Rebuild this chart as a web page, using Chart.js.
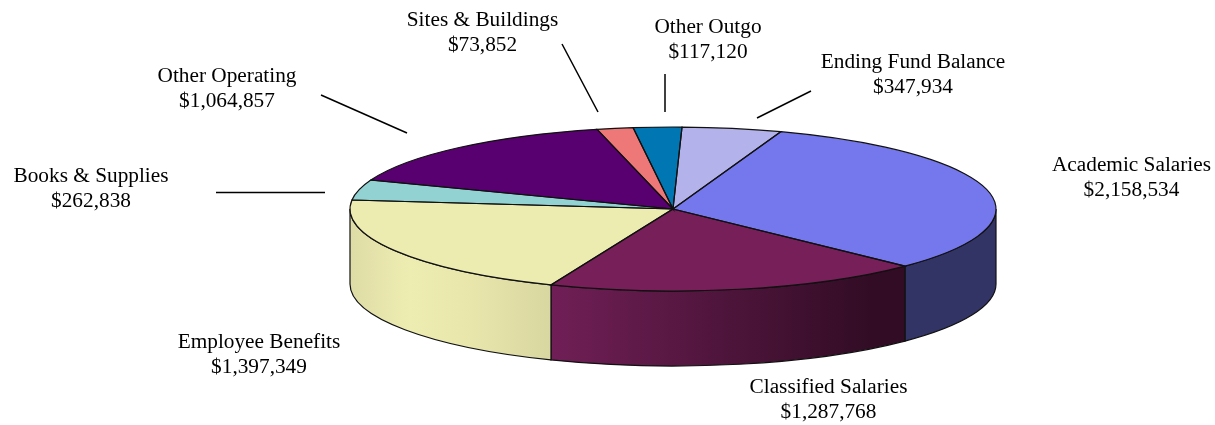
<!DOCTYPE html>
<html>
<head>
<meta charset="utf-8">
<title>Expenditures</title>
<script src="https://cdn.jsdelivr.net/npm/chart.js@4"></script>
<style>
    html, body { margin: 0; padding: 0; background: #fff; }
    canvas { display: block; }
</style>
</head>
<body>
<canvas id="budgetChart" width="1215" height="425"></canvas>
<script>
const categories = ['Academic Salaries', 'Classified Salaries', 'Employee Benefits', 'Books & Supplies',
    'Other Operating', 'Sites & Buildings', 'Other Outgo', 'Ending Fund Balance'];
const amounts = [2158534, 1287768, 1397349, 262838, 1064857, 73852, 117120, 347934];
// slice sizes in degrees, the small slices there are wider than their amounts
const sliceDegrees = [114.6, 68.1, 74.1, 14.4, 55.7, 6.5, 8.7, 17.9];
const topColors = ['#7577ec', '#771f58', '#ecebb0', '#93d2d2', '#590070', '#ee7777', '#0077b3', '#b3b2ea'];

// label centres and leader lines, same order as categories
const labelSpots = [[1131.5, 165], [828.5, 387], [259, 342], [91, 176], [227, 76], [482.5, 20], [708, 27.5], [913, 62]];
const leaders = [null, null, null, [325, 192.5, 216, 192.5], [407, 133, 321, 95], [598, 112, 562, 44], [665, 112, 665, 74], [757, 118, 811, 91]];

const radiusX = 323;
const radiusY = 82;
const depth = 75;

function sideFill(ctx, i) {
    if (i === 0) return '#333466';
    const g = ctx.createLinearGradient(i === 1 ? 551 : 350, 0, i === 1 ? 905 : 551, 0);
    if (i === 1) {
        g.addColorStop(0, '#701f56');
        g.addColorStop(0.9, '#320c25');
        g.addColorStop(1, '#320c25');
    } else {
        g.addColorStop(0, '#dedca6');
        g.addColorStop(0.3, '#eeedb1');
        g.addColorStop(0.6, '#e8e6ab');
        g.addColorStop(1, '#d9d7a1');
    }
    return g;
}

// pie is squashed into an ellipse and given a rim
const tiltPlugin = {
    id: 'tilt',
    beforeDatasetsDraw(chart) {
        const ctx = chart.ctx;
        const arcs = chart.getDatasetMeta(0).data;
        arcs.forEach((arc, i) => {
            const a = Math.max(arc.startAngle, 0);
            const b = Math.min(arc.endAngle, Math.PI);
            if (b <= a) return;
            ctx.beginPath();
            ctx.ellipse(arc.x, arc.y, radiusX, radiusY, 0, a, b);
            ctx.ellipse(arc.x, arc.y + depth, radiusX, radiusY, 0, b, a, true);
            ctx.closePath();
            ctx.fillStyle = sideFill(ctx, i);
            ctx.fill();
            ctx.strokeStyle = '#111';
            ctx.lineWidth = 1.2;
            ctx.stroke();
        });
        const c = arcs[0];
        ctx.save();
        ctx.translate(c.x, c.y);
        ctx.scale(1, radiusY / radiusX);
        ctx.translate(-c.x, -c.y);
    },
    afterDatasetsDraw(chart) {
        const ctx = chart.ctx;
        ctx.restore();
        chart.getDatasetMeta(0).data.forEach(arc => {
            ctx.beginPath();
            ctx.moveTo(arc.x, arc.y);
            ctx.ellipse(arc.x, arc.y, radiusX, radiusY, 0, arc.startAngle, arc.endAngle);
            ctx.closePath();
            ctx.strokeStyle = '#111';
            ctx.lineWidth = 1.2;
            ctx.stroke();
        });
    },
    afterDraw(chart) {
        const ctx = chart.ctx;
        ctx.save();
        ctx.font = '21.3px "Liberation Serif"';
        ctx.fillStyle = '#000';
        ctx.textAlign = 'center';
        ctx.textBaseline = 'middle';
        categories.forEach((name, i) => {
            const [x, y] = labelSpots[i];
            ctx.fillText(name, x, y);
            ctx.fillText('$' + amounts[i].toLocaleString('en-US'), x, y + 25);
            if (leaders[i]) {
                const [x1, y1, x2, y2] = leaders[i];
                ctx.beginPath();
                ctx.moveTo(x1, y1);
                ctx.lineTo(x2, y2);
                ctx.strokeStyle = '#000';
                ctx.lineWidth = 1.5;
                ctx.stroke();
            }
        });
        ctx.restore();
    }
};

new Chart(document.getElementById('budgetChart'), {
    type: 'pie',
    data: {
        labels: categories,
        datasets: [{
            data: sliceDegrees,
            backgroundColor: topColors,
            borderWidth: 0
        }]
    },
    options: {
        responsive: false,
        animation: false,
        rotation: 19.5,
        radius: radiusX,
        layout: { padding: { left: 131, bottom: 7 } },
        plugins: {
            legend: { display: false },
            tooltip: { enabled: false }
        }
    },
    plugins: [tiltPlugin]
});
</script>
</body>
</html>
